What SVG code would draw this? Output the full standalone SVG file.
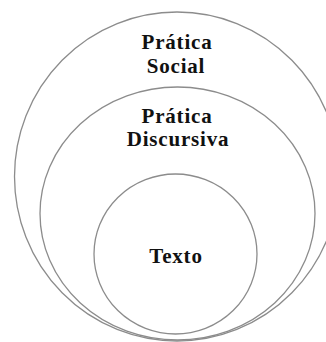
<svg xmlns="http://www.w3.org/2000/svg" width="326" height="342" viewBox="0 0 326 342">
<style>
.ring{fill:none;stroke:#8c8c8c;stroke-width:1.3}
.lbl{font-family:"Liberation Serif","Times New Roman",serif;font-weight:bold;font-size:21px;letter-spacing:0.8px;fill:#111;text-anchor:middle}
</style>
<rect width="326" height="342" fill="#fff"/>
<g id="pratica-social">
<ellipse class="ring" cx="177" cy="176.5" rx="162.5" ry="164.5"/>
<text class="lbl" x="177" y="49">Prática</text>
<text class="lbl" x="176" y="73">Social</text>
</g>
<g id="pratica-discursiva">
<ellipse class="ring" cx="177.5" cy="213.5" rx="137.5" ry="126.5"/>
<text class="lbl" x="177" y="123">Prática</text>
<text class="lbl" x="178" y="146">Discursiva</text>
</g>
<g id="texto">
<ellipse class="ring" cx="175.5" cy="254" rx="81.5" ry="80"/>
<text class="lbl" x="176" y="263">Texto</text>
</g>
<g id="connectors"/>
</svg>
